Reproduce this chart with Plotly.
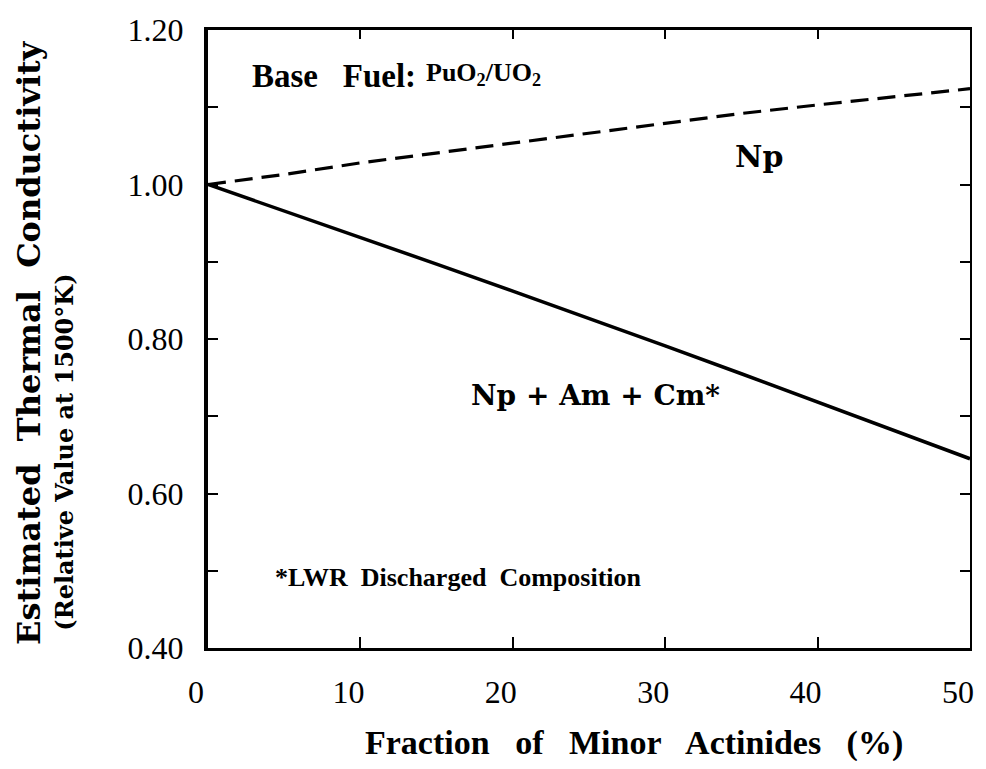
import plotly.graph_objects as go

# Data
fraction_pct = [0, 5, 10, 15, 20, 25, 30, 35, 40, 45, 50]
np_only = [1.000, 1.013, 1.028, 1.041, 1.054, 1.067, 1.080, 1.092, 1.103, 1.114, 1.124]
np_am_cm = [1.000, 0.966, 0.931, 0.897, 0.862, 0.827, 0.791, 0.755, 0.718, 0.682, 0.645]

x_tickvals = [0, 10, 20, 30, 40, 50]
x_ticktext = ["0", "10", "20", "30", "40", "50"]
y_tickvals = [0.4, 0.6, 0.8, 1.0, 1.2]
y_ticktext = ["0.40", "0.60", "0.80", "1.00", "1.20"]

SERIF = "Liberation Serif"
CENT = "DejaVu Serif"

# The page body has an 8px default margin on every side; size the figure so the
# page does not overflow, and lay out in figure coordinates
OFF = 8
W, H = 986 - 2 * OFF, 769 - 2 * OFF
l, t = 208 - OFF, 24 - OFF
r = W - (974 - OFF)
b = H - (648 - OFF)
pw, ph = W - l - r, H - t - b

fig = go.Figure()
fig.add_trace(go.Scatter(x=fraction_pct, y=np_only, mode="lines",
                         line=dict(color="black", width=3.2, dash="18px,9px"),
                         name="Np", showlegend=False))
fig.add_trace(go.Scatter(x=fraction_pct, y=np_am_cm, mode="lines",
                         line=dict(color="black", width=3.5),
                         name="Np+Am+Cm*", showlegend=False))
# empty trace so that the top/right frame axes get drawn
fig.add_trace(go.Scatter(x=[], y=[], xaxis="x2", yaxis="y2", mode="lines",
                         showlegend=False, hoverinfo="skip"))

yminor = dict(dtick=0.1, tick0=0.4, ticks="inside", ticklen=10, tickwidth=2,
              tickcolor="black", showgrid=False)

fig.update_layout(
    width=W, height=H,
    margin=dict(l=l, r=r, t=t, b=b),
    paper_bgcolor="white", plot_bgcolor="white",
    showlegend=False,
    xaxis=dict(range=[0, 50], tickvals=x_tickvals, ticktext=x_ticktext,
               showgrid=False, zeroline=False, showline=True, linecolor="black",
               linewidth=2.5, ticks="inside", ticklen=11, tickwidth=2,
               tickcolor="black", ticklabelstandoff=14, ticklabelshift=-12,
               ticklabeloverflow="allow",
               tickfont=dict(family=SERIF, size=32, color="black")),
    yaxis=dict(range=[0.4, 1.2], tickvals=y_tickvals, ticktext=y_ticktext,
               showgrid=False, zeroline=False, showline=True, linecolor="black",
               linewidth=4, ticks="inside", ticklen=10, tickwidth=2,
               tickcolor="black", ticklabelstandoff=14, minor=yminor,
               ticklabeloverflow="allow",
               tickfont=dict(family=SERIF, size=32, color="black")),
    xaxis2=dict(range=[0, 50], overlaying="x", side="top", tickvals=x_tickvals,
                showticklabels=False, showgrid=False, zeroline=False,
                showline=True, linecolor="black", linewidth=3, ticks="inside",
                ticklen=9, tickwidth=2, tickcolor="black"),
    yaxis2=dict(range=[0.4, 1.2], overlaying="y", side="right", tickvals=y_tickvals,
                showticklabels=False, showgrid=False, zeroline=False,
                showline=True, linecolor="black", linewidth=1.5, ticks="inside",
                ticklen=10, tickwidth=2, tickcolor="black", minor=yminor),
)

# positions given in reference page pixels
annotations = [
    dict(text="<b>Estimated  Thermal  Conductivity</b>", x=28, y=339, textangle=-90,
         font=dict(family=CENT, size=32, color="black")),
    dict(text="<b>(Relative Value at 1500°K)</b>", x=64, y=450, textangle=-90,
         font=dict(family=CENT, size=24, color="black")),
    dict(text="<b>Fraction&nbsp;&nbsp; of&nbsp;&nbsp; Minor&nbsp;&nbsp; Actinides&nbsp;&nbsp; (%)</b>",
         x=636, y=744, font=dict(family=SERIF, size=34, color="black")),
    dict(text="<b>Base&nbsp;&nbsp; Fuel:</b>", x=335, y=70,
         font=dict(family=SERIF, size=33, color="black")),
    dict(text="<b>PuO<sub>2</sub>/UO<sub>2</sub></b>", x=485, y=68,
         font=dict(family=SERIF, size=26, color="black")),
    dict(text="<b>Np</b>", x=762, y=152,
         font=dict(family=CENT, size=30, color="black")),
    dict(text="<b>Np + Am + Cm*</b>", x=598, y=393,
         font=dict(family=CENT, size=28, color="black")),
    dict(text="<b>*LWR&nbsp; Discharged&nbsp; Composition</b>", x=460, y=577,
         font=dict(family=SERIF, size=26, color="black")),
]
for a in annotations:
    fx, fy = a["x"] - OFF, a["y"] - OFF
    fig.add_annotation(text=a["text"], x=(fx - l) / pw, y=1 - (fy - t) / ph,
                       xref="paper", yref="paper", showarrow=False,
                       xanchor="center", yanchor="middle",
                       textangle=a.get("textangle", 0), font=a["font"])

fig.write_html("out.html")
